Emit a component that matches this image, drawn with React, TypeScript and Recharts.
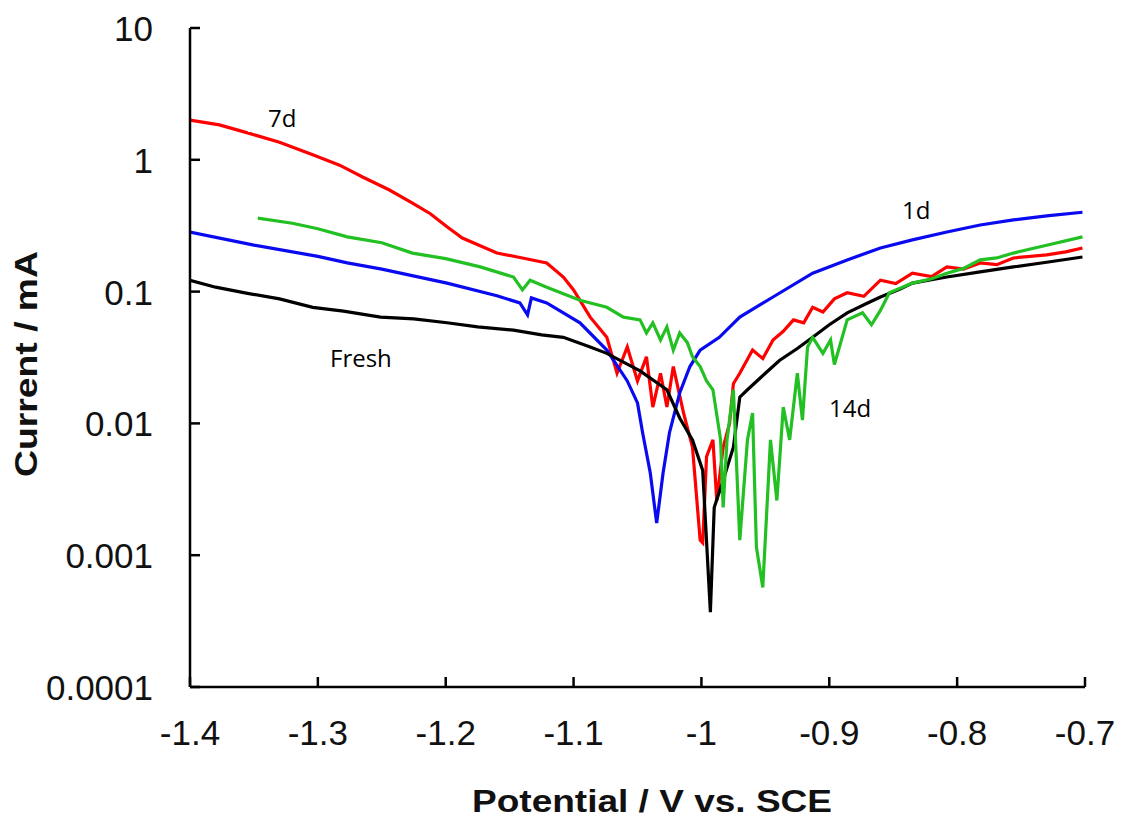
import { LineChart, Line, XAxis, YAxis } from 'recharts';

// Fresh (black)
const freshV = [-1.4, -1.38, -1.355, -1.33, -1.304, -1.28, -1.251, -1.225, -1.199, -1.175, -1.147, -1.125, -1.108, -1.087, -1.074, -1.048, -1.027, -1.017, -1.007, -0.999, -0.993, -0.99, -0.983, -0.975, -0.97, -0.964, -0.95, -0.939, -0.925, -0.913, -0.9, -0.886, -0.87, -0.86, -0.845, -0.835, -0.82, -0.808, -0.782, -0.756, -0.73, -0.702];
const freshI = [0.122, 0.108, 0.097, 0.088, 0.076, 0.071, 0.064, 0.062, 0.058, 0.054, 0.051, 0.047, 0.045, 0.038, 0.034, 0.025, 0.018, 0.011, 0.0075, 0.0044, 0.00037, 0.0023, 0.0037, 0.0066, 0.0158, 0.018, 0.024, 0.03, 0.037, 0.045, 0.056, 0.069, 0.082, 0.091, 0.104, 0.116, 0.123, 0.129, 0.141, 0.154, 0.167, 0.183];

// 1d (blue)
const day1V = [-1.4, -1.35, -1.3, -1.277, -1.25, -1.199, -1.16, -1.142, -1.136, -1.133, -1.121, -1.095, -1.074, -1.058, -1.05, -1.046, -1.04, -1.035, -1.03, -1.025, -1.017, -1.009, -1.001, -0.986, -0.97, -0.944, -0.913, -0.886, -0.86, -0.835, -0.808, -0.782, -0.756, -0.73, -0.702];
const day1I = [0.283, 0.225, 0.185, 0.165, 0.148, 0.116, 0.093, 0.082, 0.0665, 0.0896, 0.082, 0.058, 0.036, 0.021, 0.0143, 0.0085, 0.0042, 0.00175, 0.0042, 0.0085, 0.017, 0.027, 0.036, 0.045, 0.064, 0.091, 0.138, 0.174, 0.214, 0.247, 0.283, 0.32, 0.35, 0.375, 0.4];

// 7d (red)
const day7V = [-1.4, -1.377, -1.355, -1.33, -1.304, -1.283, -1.265, -1.244, -1.226, -1.212, -1.199, -1.187, -1.16, -1.14, -1.121, -1.108, -1.1, -1.087, -1.074, -1.066, -1.058, -1.05, -1.043, -1.038, -1.032, -1.027, -1.022, -1.014, -1.007, -1.001, -0.999, -0.996, -0.991, -0.988, -0.983, -0.978, -0.975, -0.97, -0.96, -0.952, -0.944, -0.936, -0.928, -0.92, -0.913, -0.905, -0.896, -0.886, -0.873, -0.86, -0.848, -0.835, -0.82, -0.808, -0.795, -0.782, -0.769, -0.756, -0.73, -0.715, -0.702];
const day7I = [2.0, 1.84, 1.6, 1.36, 1.09, 0.91, 0.74, 0.59, 0.47, 0.39, 0.31, 0.255, 0.196, 0.18, 0.165, 0.129, 0.103, 0.064, 0.045, 0.024, 0.038, 0.021, 0.032, 0.0133, 0.024, 0.0133, 0.027, 0.012, 0.0066, 0.0013, 0.00124, 0.0056, 0.0075, 0.0026, 0.0066, 0.01, 0.02, 0.024, 0.036, 0.031, 0.043, 0.05, 0.061, 0.058, 0.076, 0.07, 0.088, 0.098, 0.092, 0.122, 0.115, 0.138, 0.13, 0.154, 0.148, 0.165, 0.16, 0.18, 0.19, 0.2, 0.214];

// 14d (green)
const day14V = [-1.347, -1.32, -1.3, -1.277, -1.25, -1.226, -1.2, -1.173, -1.147, -1.14, -1.134, -1.121, -1.095, -1.074, -1.061, -1.048, -1.043, -1.038, -1.032, -1.027, -1.022, -1.017, -1.011, -1.007, -1.001, -0.996, -0.991, -0.985, -0.983, -0.98, -0.975, -0.97, -0.964, -0.96, -0.957, -0.952, -0.946, -0.941, -0.936, -0.931, -0.925, -0.921, -0.917, -0.913, -0.905, -0.899, -0.896, -0.886, -0.874, -0.867, -0.86, -0.853, -0.835, -0.82, -0.808, -0.795, -0.782, -0.769, -0.756, -0.73, -0.702];
const day14I = [0.361, 0.33, 0.3, 0.26, 0.235, 0.196, 0.178, 0.154, 0.129, 0.103, 0.122, 0.108, 0.086, 0.076, 0.064, 0.061, 0.0485, 0.058, 0.043, 0.054, 0.036, 0.0485, 0.041, 0.032, 0.027, 0.021, 0.018, 0.0075, 0.0023, 0.0075, 0.018, 0.0013, 0.0075, 0.012, 0.00115, 0.00057, 0.0075, 0.0026, 0.0133, 0.0075, 0.024, 0.0106, 0.038, 0.045, 0.034, 0.043, 0.028, 0.061, 0.069, 0.056, 0.072, 0.098, 0.116, 0.125, 0.138, 0.15, 0.174, 0.18, 0.196, 0.225, 0.26];

const xTicks = [-1.4, -1.3, -1.2, -1.1, -1.0, -0.9, -0.8, -0.7];
const xTickLabels = ['-1.4', '-1.3', '-1.2', '-1.1', '-1', '-0.9', '-0.8', '-0.7'];
const yTicks = [0.0001, 0.001, 0.01, 0.1, 1, 10];
const yTickLabels = ['0.0001', '0.001', '0.01', '0.1', '1', '10'];

const toPoints = (v: number[], i: number[]) => v.map((x, k) => ({ x, y: i[k] }));

const tickFont = '"Liberation Sans", Arial, sans-serif';

const XTick = ({ x, y, payload }: any) => {
    const idx = xTicks.findIndex(t => Math.abs(t - payload.value) < 1e-6);
    return (
        <g>
            <line x1={x} y1={y} x2={x} y2={y - 10} stroke="#000" strokeWidth={2.5} />
            <text x={x} y={y + 58} textAnchor="middle" fontSize={35} fontFamily={tickFont} fill="#111">
                {xTickLabels[idx]}
            </text>
        </g>
    );
};

const YTick = ({ x, y, payload }: any) => {
    const idx = yTicks.findIndex(t => Math.abs(Math.log10(t) - Math.log10(payload.value)) < 1e-6);
    return (
        <g>
            <line x1={x} y1={y} x2={x + 10} y2={y} stroke="#000" strokeWidth={2.5} />
            <text x={x - 37} y={y + 13} textAnchor="end" fontSize={35} fontFamily={tickFont} fill="#111">
                {yTickLabels[idx]}
            </text>
        </g>
    );
};

const series = [
    { name: '7d', data: toPoints(day7V, day7I), color: '#ff0000' },
    { name: '1d', data: toPoints(day1V, day1I), color: '#0a0af0' },
    { name: 'Fresh', data: toPoints(freshV, freshI), color: '#000000' },
    { name: '14d', data: toPoints(day14V, day14I), color: '#22c022' },
];

export default function App() {
    const labelFont = '"Open Sans", "Noto Sans", sans-serif';
    return (
        <div style={{ position: 'absolute', left: 0, top: 0, width: 1122, height: 829, background: '#fff' }}>
            <LineChart width={1122} height={829} margin={{ top: 28, right: 37, bottom: 0, left: 0 }}>
                <XAxis
                    type="number"
                    dataKey="x"
                    domain={[-1.4, -0.7]}
                    ticks={xTicks}
                    allowDataOverflow
                    height={142}
                    tickSize={0}
                    tickMargin={0}
                    tick={<XTick />}
                    axisLine={{ stroke: '#000', strokeWidth: 2.5 }}
                    interval={0}
                />
                <YAxis
                    type="number"
                    scale="log"
                    domain={[0.0001, 10]}
                    ticks={yTicks}
                    allowDataOverflow
                    width={190}
                    tickSize={0}
                    tickMargin={0}
                    tick={<YTick />}
                    axisLine={{ stroke: '#000', strokeWidth: 2.5 }}
                    interval={0}
                />
                {series.map(s => (
                    <Line
                        key={s.name}
                        data={s.data}
                        dataKey="y"
                        type="linear"
                        stroke={s.color}
                        strokeWidth={3.2}
                        dot={false}
                        activeDot={false}
                        isAnimationActive={false}
                    />
                ))}
            </LineChart>
            <svg width={1122} height={829} style={{ position: 'absolute', left: 0, top: 0, pointerEvents: 'none' }}>
                <rect x={248} y={100} width={52} height={32} fill="#fff" />
                <text x={268} y={127} fontSize={24} fontFamily={labelFont} fill="#000">7d</text>
                <text x={902} y={219} fontSize={24} fontFamily={labelFont} fill="#000">1d</text>
                <text x={330} y={367} fontSize={24} fontFamily={labelFont} fill="#000">Fresh</text>
                <text x={829} y={417} fontSize={24} fontFamily={labelFont} fill="#000">14d</text>
                <text
                    x={472}
                    y={812}
                    fontSize={32}
                    fontWeight="bold"
                    fontFamily={tickFont}
                    fill="#111"
                    textLength={360}
                    lengthAdjust="spacingAndGlyphs"
                >
                    Potential / V vs. SCE
                </text>
                <text
                    transform="translate(37, 477) rotate(-90)"
                    x={0}
                    y={0}
                    fontSize={32}
                    fontWeight="bold"
                    fontFamily={tickFont}
                    fill="#111"
                    textLength={226}
                    lengthAdjust="spacingAndGlyphs"
                >
                    Current / mA
                </text>
            </svg>
        </div>
    );
}
